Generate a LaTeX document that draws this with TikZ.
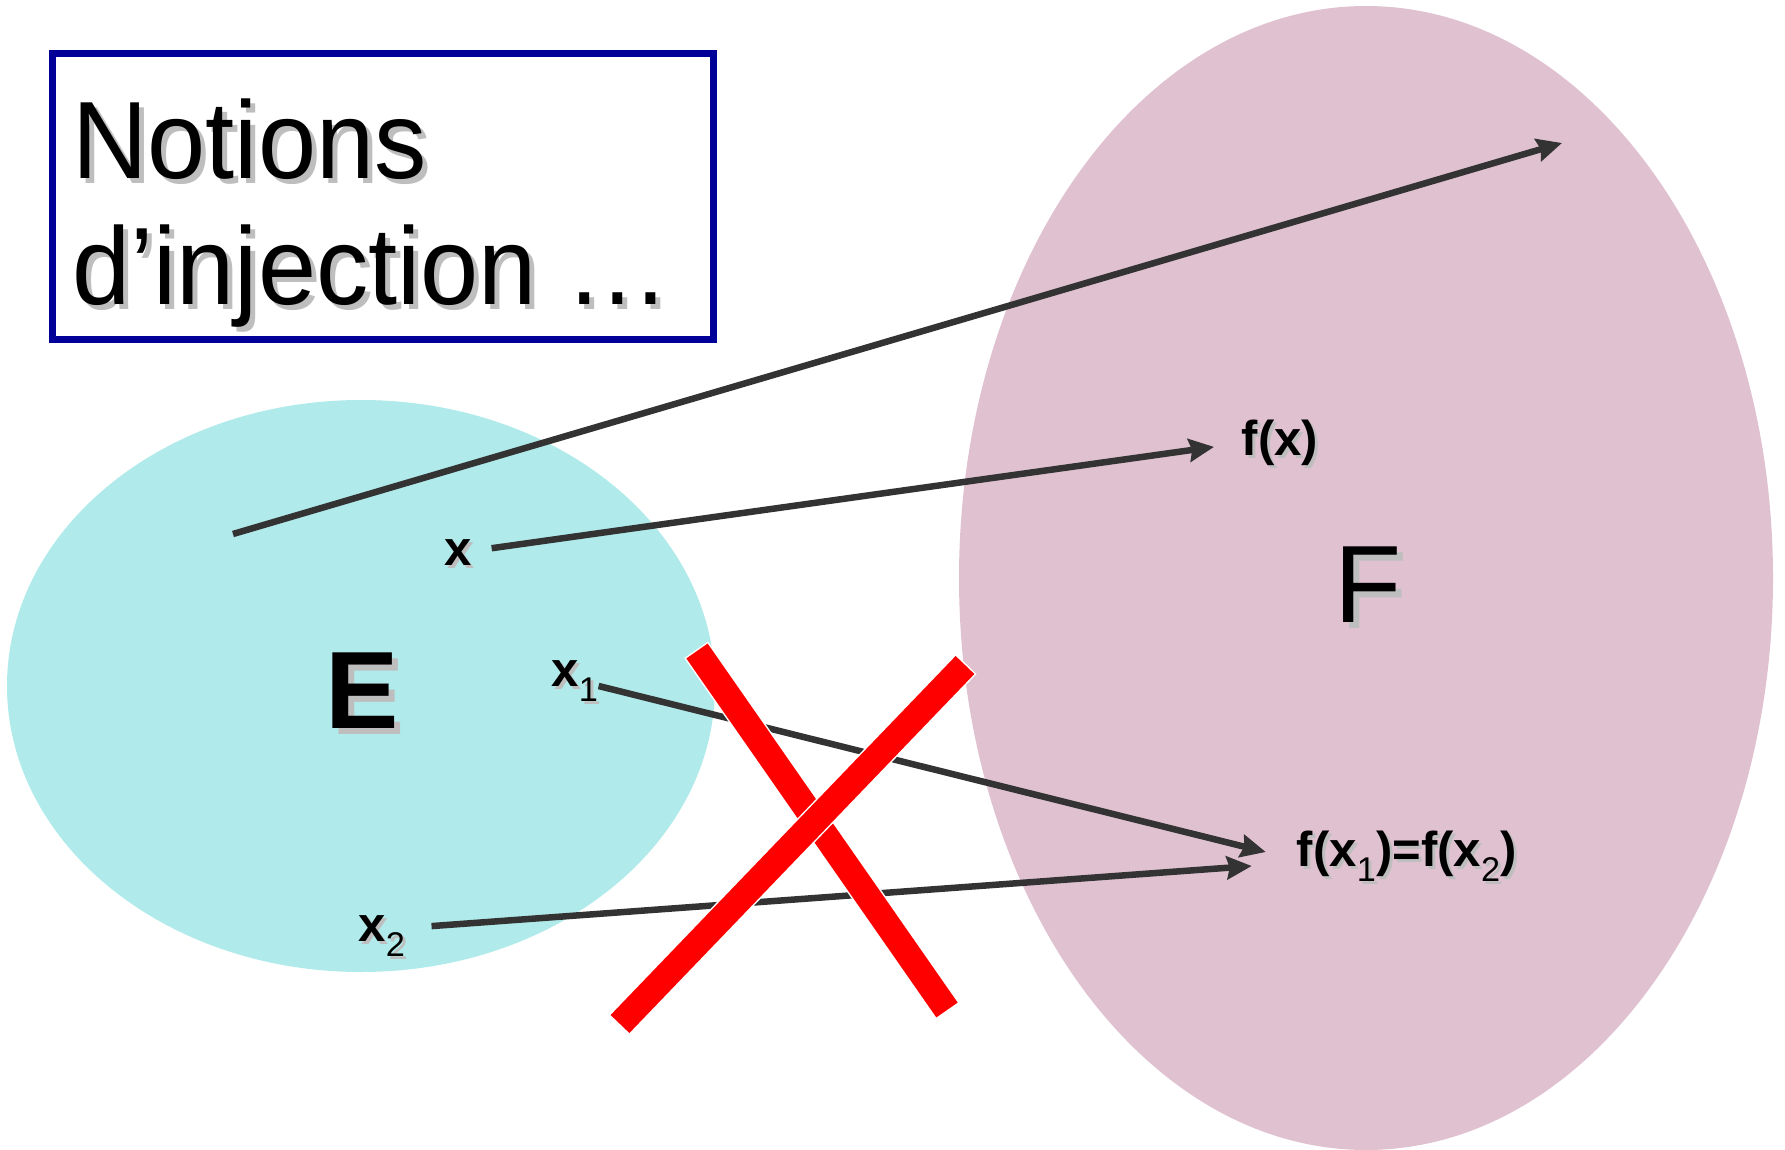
\documentclass[tikz,border=0pt]{standalone}
\usepackage{fontspec}
\setmainfont{Liberation Sans}
\newfontfamily\titlefont[FakeStretch=0.95]{Liberation Sans}
\usepackage{tikz}
\usetikzlibrary{arrows.meta,positioning}

\definecolor{setE}{RGB}{176,234,234}
\definecolor{setF}{RGB}{224,193,208}
\definecolor{arrowgray}{RGB}{51,51,51}
\definecolor{shadowgray}{RGB}{190,190,190}
\definecolor{titleblue}{RGB}{0,0,153}

% text with a grey drop shadow
\newcommand{\shadowtext}[2]{\makebox[0pt][l]{\smash{\hspace*{#1}\raisebox{-#1}{\textcolor{shadowgray}{#2}}}}#2}

\begin{document}
\begin{tikzpicture}[
  x=1pt, y=-1pt,
  lbl/.style={inner sep=0pt, font=\fontsize{49}{49}\selectfont\bfseries},
  setname/.style={inner sep=0pt, font=\fontsize{110}{110}\selectfont},
  arr/.style={-{Stealth[length=25pt, width=23pt, inset=3pt]}, line width=6.5pt, draw=arrowgray},
  cross/.style={line width=26pt, draw=red},
  crossedge/.style={line width=29pt, draw=white, shorten <=-1.5pt, shorten >=-1.5pt},
]
  \useasboundingbox (0,0) rectangle (1785,1150);

  % the two sets
  \fill[setE] (361,686) ellipse [x radius=354, y radius=286];
  \fill[setF] (1366,578) ellipse [x radius=407, y radius=572];

  % title
  \node[draw=titleblue, line width=7pt, fill=white, outer sep=0pt, inner sep=0pt,
        minimum width=661pt, minimum height=286pt, anchor=north west] (title) at (52.5,53.5) {};
  \node[anchor=west, inner sep=0pt, align=left, font=\titlefont\fontsize{110}{126}\selectfont]
    (titletext) at (72,213) {\shadowtext{5pt}{Notions}\\\shadowtext{5pt}{d’injection …}};

  % labels
  \node[setname, font=\fontsize{110}{110}\selectfont\bfseries] (E) at (362,691) {\shadowtext{6pt}{E}};
  \node[setname] (F) at (1368,585) {\shadowtext{6pt}{F}};
  \node[lbl] (x) at (458,553) {\shadowtext{3pt}{x}};
  \node[lbl] (fx) at (1280,443) {\shadowtext{3pt}{f(x)}};
  \node[lbl] (x1) at (575,681) {\shadowtext{3pt}{x\textsubscript{\mdseries 1}}};
  \node[lbl] (x2) at (382,936) {\shadowtext{3pt}{x\textsubscript{\mdseries 2}}};
  \node[lbl] (fx12) at (1407,856) {\shadowtext{3pt}{f(x\textsubscript{\mdseries 1})=f(x\textsubscript{\mdseries 2})}};

  % mappings
  \coordinate (tail) at (233,534);
  \coordinate (head) at (1562,143);
  \draw[arr] (tail) -- (head);
  \draw[arr, shorten <=20pt, shorten >=28pt] ([shift={(0,-2)}]x.east) -- (fx.west);
  \draw[arr] ([shift={(0,5)}]x1.east) -- ([shift={(-31,-4)}]fx12.west);
  \draw[arr, shorten <=26pt] ([shift={(0,-8)}]x2.east) -- ([shift={(-45,10)}]fx12.west);

  % the red cross
  \draw[crossedge] (697,651) -- (947,1010);
  \draw[cross] (697,651) -- (947,1010);
  \draw[crossedge] (965,665) -- (620,1024);
  \draw[cross] (965,665) -- (620,1024);
\end{tikzpicture}
\end{document}
